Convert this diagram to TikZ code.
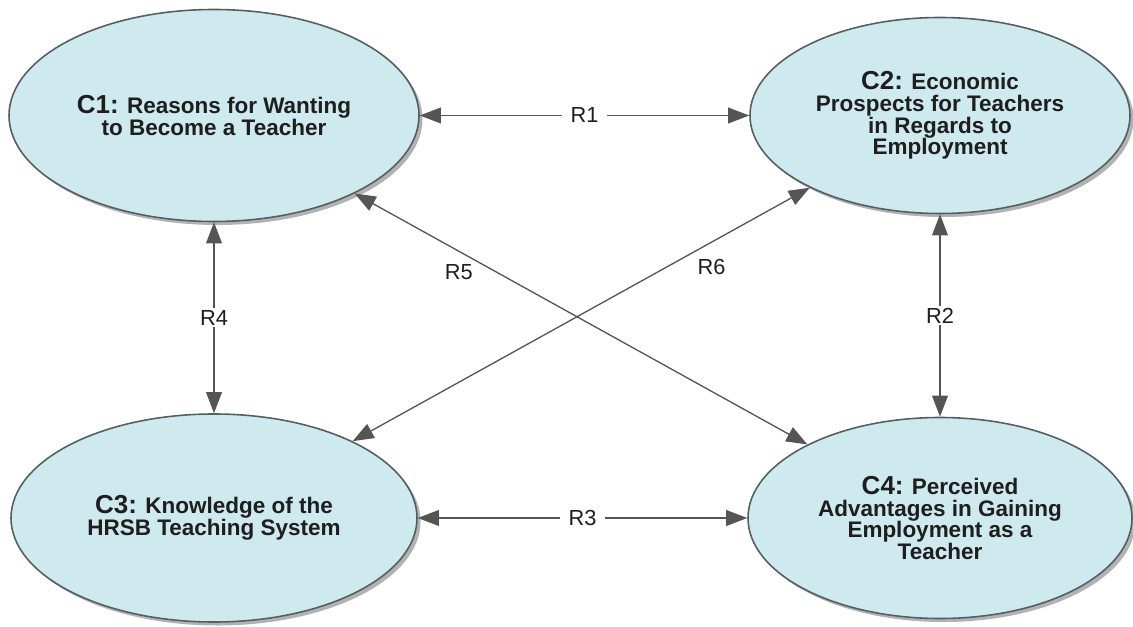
\documentclass[tikz,border=0pt]{standalone}
\usepackage{fontspec}
\setmainfont{Liberation Sans}
\usetikzlibrary{shapes}
\usetikzlibrary{positioning}
\usetikzlibrary{arrows.meta}
\usetikzlibrary{shadows}
\definecolor{conceptfill}{RGB}{206,234,239}
\definecolor{conceptline}{RGB}{85,95,98}
\definecolor{linkgray}{RGB}{85,85,85}
\definecolor{textdark}{RGB}{30,30,30}

\begin{document}
\begin{tikzpicture}[<->,>={Triangle[length=12pt,width=9pt]},line width=0.75pt,
  every edge/.append style={linkgray},
  concept node/.style={ellipse,fill=conceptfill,draw=conceptline,line width=0.9pt,text=textdark,align=center,inner sep=0pt,font=\fontsize{12.8}{12.4}\selectfont\bfseries,drop shadow={shadow xshift=2pt,shadow yshift=-2pt,fill=black,opacity=.3}},
  rel label/.style={fill=white,text=textdark,font=\fontsize{12.4}{12.4}\selectfont,inner xsep=5pt,inner ysep=1pt}]

	      \useasboundingbox (0,0) rectangle (22.66,-12.54);

	      \node[concept node,minimum width=8.2cm,minimum height=4.24cm] at (4.28,-2.31) (c1) {{\fontsize{14.8}{12.4}\selectfont C1:} Reasons for Wanting\\to Become a Teacher};
	      \node[concept node,minimum width=7.6cm,minimum height=3.92cm] at (18.8,-2.31) (c2) {{\fontsize{14.8}{12.4}\selectfont C2:} Economic\\Prospects for Teachers\\in Regards to\\Employment};
	      \node[concept node,minimum width=8.12cm,minimum height=4.16cm] at (4.28,-10.36) (c3) {{\fontsize{14.8}{12.4}\selectfont C3:} Knowledge of the\\HRSB Teaching System};
	      \node[concept node,minimum width=7.68cm,minimum height=4.02cm] at (18.8,-10.36) (c4) {{\fontsize{14.8}{12.4}\selectfont C4:} Perceived\\Advantages in Gaining\\Employment as a\\Teacher};

	      \path
	      (c1) edge node[rel label] {R1} (c2)
	      (c2) edge node[rel label] {R2} (c4)
	      (c3) edge node[rel label] {R3} (c4)
	      (c1) edge node[rel label] {R4} (c3)
	      (c1) edge node[rel label,fill=none,pos=.23,yshift=-.42cm] {R5} (c4)
	      (c3) edge node[rel label,fill=none,pos=.785,yshift=-.5cm] {R6} (c2)
	      ;

	    \end{tikzpicture}
\end{document}
